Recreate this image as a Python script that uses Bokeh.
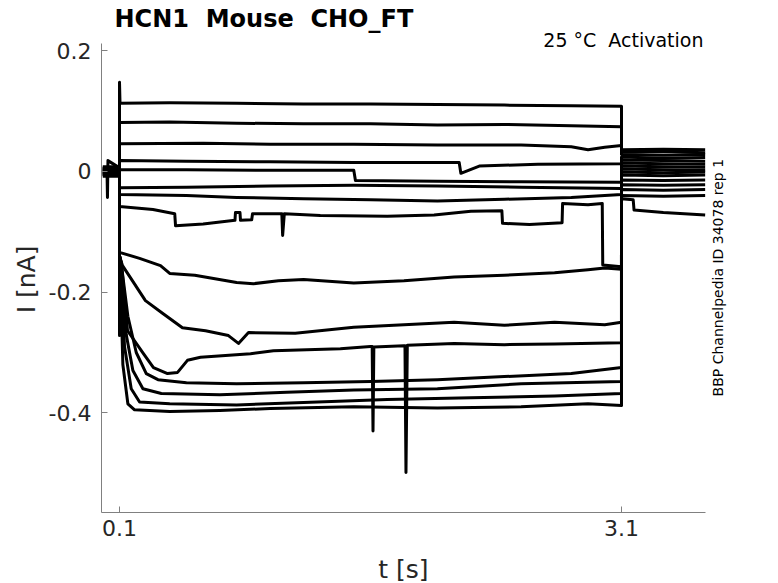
import math

from bokeh.plotting import figure
from bokeh.models import Label, FixedTicker, Range1d
from bokeh.embed import file_html
from bokeh.resources import INLINE

# axis ticks and the extent of the drawn axes
x_ticks = [0.1, 3.1]
y_ticks = [0.2, 0, -0.2, -0.4]
x_axis_span = (-0.0076, 3.602)
y_axis_span = (-0.5652, 0.2122)

# current traces (t in s, I in nA)
# holding (0-0.1 s), voltage step (0.1-3.1 s), tail (3.1-3.6 s)
t1 = [0, 0.025, 0.028, 0.031, 0.1, 0.1, 0.103, 0.4, 0.8, 1.2, 1.6, 2.0, 2.4, 2.8, 3.1, 3.1, 3.35, 3.6]
i1 = [0.006, 0.006, -0.043, 0.018, 0.006, 0.148, 0.113, 0.114, 0.113, 0.112, 0.112, 0.111, 0.110, 0.109, 0.108, 0.036, 0.037, 0.036]

t2 = [0, 0.1, 0.1, 0.4, 0.8, 1.2, 1.6, 2.0, 2.4, 2.8, 3.1, 3.1, 3.35, 3.6]
i2 = [0.004, 0.004, 0.081, 0.082, 0.080, 0.079, 0.079, 0.077, 0.078, 0.076, 0.074, 0.032, 0.033, 0.031]

t3 = [0, 0.1, 0.1, 0.6, 1.0, 1.5, 2.0, 2.5, 2.8, 2.9, 3.0, 3.1, 3.1, 3.35, 3.6]
i3 = [0.008, 0.008, 0.046, 0.047, 0.045, 0.045, 0.044, 0.044, 0.041, 0.036, 0.040, 0.043, 0.028, 0.027, 0.028]

t4 = [0, 0.1, 0.1, 0.5, 1.0, 1.5, 2.13, 2.14, 2.25, 2.6, 3.1, 3.1, 3.35, 3.6]
i4 = [0.002, 0.002, 0.018, 0.017, 0.016, 0.015, 0.015, -0.003, 0.009, 0.012, 0.013, 0.024, 0.022, 0.023]

t5 = [0, 0.1, 0.1, 0.5, 1.0, 1.5, 1.51, 2.0, 2.5, 3.1, 3.1, 3.35, 3.6]
i5 = [0.0, 0.0, 0.003, 0.003, 0.002, 0.002, -0.015, -0.016, -0.017, -0.018, 0.019, 0.018, 0.017]

t6 = [0, 0.1, 0.1, 0.5, 1.0, 1.5, 2.0, 2.5, 3.1, 3.1, 3.35, 3.6]
i6 = [-0.002, -0.002, -0.027, -0.026, -0.024, -0.023, -0.024, -0.026, -0.028, 0.014, 0.013, 0.012]

t7 = [0, 0.1, 0.1, 0.5, 0.8, 1.2, 1.6, 2.0, 2.4, 2.8, 3.1, 3.1, 3.35, 3.6]
i7 = [-0.004, -0.004, -0.038, -0.040, -0.043, -0.045, -0.047, -0.049, -0.046, -0.043, -0.038, 0.009, 0.008, 0.007]

t8 = [0, 0.1, 0.1, 0.3, 0.43, 0.435, 0.6, 0.79, 0.793, 0.82, 0.823, 0.89, 0.895, 1.07, 1.075, 1.085,
      1.3, 1.7, 1.98, 2.2, 2.385, 2.389, 2.55, 2.745, 2.748, 2.9, 2.985, 2.988, 3.1, 3.1, 3.35, 3.6]
i8 = [0.005, 0.005, -0.058, -0.063, -0.070, -0.090, -0.087, -0.081, -0.068, -0.068, -0.081, -0.080, -0.070, -0.070, -0.106, -0.070,
      -0.073, -0.074, -0.072, -0.066, -0.065, -0.086, -0.088, -0.085, -0.053, -0.055, -0.053, -0.155, -0.158, 0.004, 0.003, 0.002]

t9 = [0, 0.1, 0.1, 0.22, 0.345, 0.4, 0.55, 0.8, 0.9, 1.05, 1.2, 1.5, 1.8, 2.1, 2.4, 2.7, 2.9, 3.0, 3.1, 3.1, 3.35, 3.6]
i9 = [-0.006, -0.006, -0.134, -0.144, -0.156, -0.169, -0.172, -0.184, -0.186, -0.181, -0.179, -0.185, -0.181, -0.175, -0.172, -0.168, -0.163, -0.160, -0.162, -0.001, -0.002, -0.001]

t10 = [0, 0.1, 0.1, 0.118, 0.255, 0.357, 0.476, 0.614, 0.751, 0.811, 0.871, 1.15, 1.5, 1.8, 2.1, 2.4, 2.7, 3.0, 3.1, 3.1, 3.35, 3.6]
i10 = [0.003, 0.003, -0.14, -0.156, -0.214, -0.235, -0.259, -0.264, -0.272, -0.285, -0.267, -0.268, -0.258, -0.254, -0.250, -0.255, -0.250, -0.254, -0.250, -0.006, -0.007, -0.006]

t11 = [0, 0.1, 0.1, 0.112, 0.148, 0.243, 0.303, 0.387, 0.447, 0.506, 0.584, 0.883, 1.02, 1.42, 1.6, 1.61, 1.615, 1.62,
       1.8, 1.806, 1.812, 1.82, 2.1, 2.4, 2.7, 3.1, 3.1, 3.35, 3.6]
i11 = [-0.008, -0.008, -0.14, -0.153, -0.264, -0.302, -0.325, -0.335, -0.333, -0.313, -0.308, -0.302, -0.297, -0.294, -0.290, -0.290, -0.430, -0.291,
       -0.289, -0.289, -0.499, -0.288, -0.285, -0.287, -0.286, -0.284, -0.014, -0.015, -0.014]

t12 = [0, 0.1, 0.1, 0.11, 0.15, 0.2, 0.26, 0.33, 0.5, 0.8, 1.2, 1.6, 2.0, 2.4, 2.8, 3.1, 3.1, 3.35, 3.6]
i12 = [-0.003, -0.003, -0.14, -0.152, -0.24, -0.30, -0.335, -0.345, -0.350, -0.352, -0.350, -0.348, -0.345, -0.340, -0.335, -0.325, -0.022, -0.023, -0.022]

t13 = [0, 0.1, 0.1, 0.108, 0.14, 0.18, 0.24, 0.35, 0.7, 1.1, 1.5, 2.0, 2.5, 3.1, 3.1, 3.35, 3.6]
i13 = [0.001, 0.001, -0.14, -0.15, -0.27, -0.33, -0.36, -0.368, -0.370, -0.366, -0.362, -0.360, -0.352, -0.348, -0.030, -0.031, -0.030]

t14 = [0, 0.1, 0.1, 0.106, 0.13, 0.17, 0.22, 0.4, 0.8, 1.2, 1.7, 2.2, 2.7, 3.1, 3.1, 3.35, 3.6]
i14 = [-0.005, -0.005, -0.14, -0.15, -0.29, -0.36, -0.382, -0.385, -0.387, -0.383, -0.378, -0.375, -0.372, -0.368, -0.040, -0.041, -0.040]

t15 = [0, 0.1, 0.1, 0.103, 0.12, 0.15, 0.19, 0.4, 0.7, 1.0, 1.5, 2.0, 2.5, 2.9, 3.1, 3.1, 3.17, 3.175, 3.35, 3.6]
i15 = [-0.001, -0.001, -0.272, -0.15, -0.32, -0.385, -0.395, -0.398, -0.396, -0.393, -0.390, -0.392, -0.390, -0.385, -0.388, -0.045, -0.047, -0.064, -0.068, -0.072]

traces = [(t1, i1), (t2, i2), (t3, i3), (t4, i4), (t5, i5), (t6, i6), (t7, i7), (t8, i8),
          (t9, i9), (t10, i10), (t11, i11), (t12, i12), (t13, i13), (t14, i14), (t15, i15)]

FONT = "DejaVu Sans"

# the frame fills the whole canvas, axes are pinned inside it, so that
# the texts around the axes are not clipped away
p = figure(width=778, height=583,
           x_range=Range1d(-0.6112, 4.0383), y_range=Range1d(-0.6829, 0.2834),
           output_backend="svg", toolbar_location=None, min_border=0)

p.xgrid.visible = False
p.ygrid.visible = False
p.outline_line_color = None
p.background_fill_color = "white"
p.border_fill_color = "white"

for tt, ii in traces:
    p.line(tt, ii, line_color="black", line_width=3, line_join="round")

# axes: only left and bottom, ticks pointing inwards
for ax in (p.xaxis[0], p.yaxis[0]):
    ax.axis_line_color = "#808080"
    ax.major_tick_line_color = "#808080"
    ax.major_tick_in = 6
    ax.major_tick_out = 0
    ax.minor_tick_line_color = None
    ax.major_label_text_font = FONT
    ax.major_label_text_font_size = "22px"
    ax.major_label_text_color = "#262626"

p.xaxis.ticker = FixedTicker(ticks=x_ticks)
p.xaxis.major_label_overrides = {0.1: "0.1", 3.1: "3.1"}
p.xaxis.major_label_standoff = 8
p.xaxis.fixed_location = y_axis_span[0]
p.xaxis.bounds = x_axis_span

p.yaxis.ticker = FixedTicker(ticks=y_ticks)
p.yaxis.major_label_overrides = {0.2: "0.2", 0: "0", -0.2: "-0.2", -0.4: "-0.4"}
p.yaxis.major_label_standoff = 10
p.yaxis.fixed_location = x_axis_span[0]
p.yaxis.bounds = y_axis_span

# texts (a no-break space keeps the doubled gaps from collapsing)
p.add_layout(Label(x=0.07, y=0.2526, text="HCN1\u00a0 Mouse\u00a0 CHO_FT", text_font=FONT,
                   text_font_style="bold", text_font_size="24px", text_color="black",
                   text_align="left", text_baseline="alphabetic"))
p.add_layout(Label(x=3.59, y=0.2178, text="25 °C\u00a0 Activation", text_font=FONT,
                   text_font_size="19px", text_color="black",
                   text_align="right", text_baseline="alphabetic"))
p.add_layout(Label(x=3.674, y=-0.176, text="BBP Channelpedia ID 34078 rep 1", text_font=FONT,
                   text_font_size="14px", text_color="black", angle=math.pi / 2,
                   text_align="center", text_baseline="middle"))
p.add_layout(Label(x=-0.456, y=-0.179, text="I [nA]", text_font=FONT,
                   text_font_size="25px", text_color="#262626", angle=math.pi / 2,
                   text_align="center", text_baseline="middle"))
p.add_layout(Label(x=1.797, y=-0.659, text="t [s]", text_font=FONT,
                   text_font_size="25px", text_color="#262626",
                   text_align="center", text_baseline="middle"))

open("out.html", "w").write(file_html(p, INLINE))
